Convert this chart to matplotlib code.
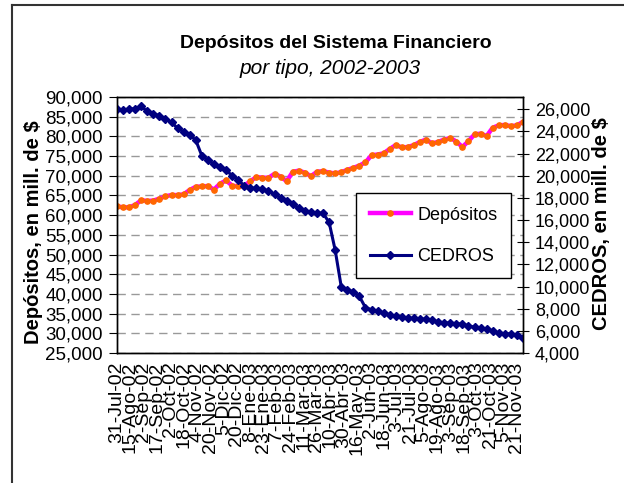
import numpy as np
import matplotlib
matplotlib.use("Agg")
from matplotlib import pyplot as plt
from matplotlib.lines import Line2D

plt.rcParams['font.family'] = ['Liberation Sans', 'DejaVu Sans']
narrow = ['Liberation Sans Narrow', 'Liberation Sans', 'DejaVu Sans']

# category labels, one every 11 business days
x_labels = ["31-Jul-02", "15-Ago-02", "2-Sep-02", "17-Sep-02", "2-Oct-02", "18-Oct-02",
            "4-Nov-02", "20-Nov-02", "5-Dic-02", "20-Dic-02", "8-Ene-03", "23-Ene-03",
            "7-Feb-03", "24-Feb-03", "11-Mar-03", "26-Mar-03", "10-Abr-03", "30-Abr-03",
            "16-May-03", "2-Jun-03", "18-Jun-03", "3-Jul-03", "21-Jul-03", "5-Ago-03",
            "19-Ago-03", "3-Sep-03", "18-Sep-03", "3-Oct-03", "21-Oct-03", "5-Nov-03",
            "21-Nov-03"]
label_step = 11
n_days = 336

# values every 5 business days (millones de $)
sample_step = 5
depositos = [62200, 62000, 62000, 62600, 63800, 63600, 63700, 64200, 64800, 65100,
             65100, 65300, 66400, 67200, 67300, 67400, 66500, 68000, 68800, 67500,
             67300, 67500, 68600, 69700, 69500, 69500, 70500, 69800, 68600, 71000,
             71300, 70800, 69900, 71000, 71200, 70800, 70600, 70900, 71500, 72000,
             72600, 73400, 75200, 75400, 75700, 76800, 77800, 77200, 77300, 77800,
             78600, 79200, 78200, 78600, 79200, 79600, 78700, 77300, 78800, 80500,
             80700, 80100, 82200, 82800, 82900, 82600, 82800, 83700]
cedros = [26000, 25950, 26000, 26050, 26250, 25800, 25600, 25400, 25150, 24800,
          24300, 23950, 23700, 23200, 21800, 21400, 21050, 20800, 20500, 20000,
          19600, 19100, 18900, 18850, 18800, 18600, 18350, 18000, 17700, 17400,
          17100, 16850, 16700, 16650, 16600, 15800, 13300, 10000, 9700, 9500,
          9100, 8100, 7900, 7750, 7580, 7450, 7320, 7250, 7150, 7120,
          7080, 7050, 6950, 6800, 6730, 6700, 6650, 6600, 6450, 6320,
          6250, 6150, 6000, 5800, 5750, 5720, 5600, 5330]

left_ticks = list(range(25000, 90001, 5000))
right_ticks = list(range(4000, 26001, 2000))

x = np.arange(len(depositos)) * sample_step

fig = plt.figure(figsize=(6.24, 4.83), dpi=100)
ax = fig.add_axes([117 / 624, 1 - 353 / 483, 406 / 624, 256 / 483])
ax2 = ax.twinx()

ax.plot(x, depositos, color='#FF00FF', lw=3.2, marker='o', ms=3.8,
        mfc='#FF6600', mec='#FF6600', label='Depósitos')
ax2.plot(x, cedros, color='#000080', lw=2.2, marker='D', ms=3.6,
         mfc='#000080', mec='#000080', label='CEDROS')

ax.set_xlim(0, n_days - 1)
ax.set_ylim(25000, 90000)
ax2.set_ylim(4000, 27100)

ax.set_yticks(left_ticks, [f"{v:,}" for v in left_ticks])
ax2.set_yticks(right_ticks, [f"{v:,}" for v in right_ticks])
ax.set_xticks(np.arange(len(x_labels)) * label_step, x_labels, rotation=90)

ax.yaxis.grid(True, linestyle=(0, (6, 4)), color='#999999', lw=1)
ax.set_axisbelow(True)

ax.tick_params(axis='y', direction='out', length=6, labelsize=13.5, pad=4)
ax2.tick_params(axis='y', direction='inout', length=9, labelsize=13, pad=4)
ax.tick_params(axis='x', length=0, labelsize=14, pad=6)
for lbl in ax.get_yticklabels() + ax2.get_yticklabels() + ax.get_xticklabels():
    lbl.set_family(narrow)

for a in (ax, ax2):
    for s in a.spines.values():
        s.set_color('black')
        s.set_linewidth(1)

fig.text(336 / 624, 1 - 43 / 483, "Depósitos del Sistema Financiero",
         ha='center', va='center', fontsize=14, fontweight='bold')
fig.text(330 / 624, 1 - 68 / 483, "por tipo, 2002-2003",
         ha='center', va='center', fontsize=15, style='italic')

fig.text(34 / 624, 1 - 232 / 483, "Depósitos, en mill. de $", rotation=90,
         ha='center', va='center', fontsize=14.5, fontweight='bold')
fig.text(601 / 624, 1 - 224 / 483, "CEDROS, en mill. de $", rotation=90,
         ha='center', va='center', fontsize=14.5, fontweight='bold')

h1, l1 = ax.get_legend_handles_labels()
h2, l2 = ax2.get_legend_handles_labels()
leg = ax2.legend(h1 + h2, l1 + l2, loc='upper left',
                 bbox_to_anchor=(356 / 624, 1 - 193 / 483), bbox_transform=fig.transFigure,
                 fontsize=13, frameon=True, fancybox=False, framealpha=1,
                 edgecolor='black', labelspacing=1.35, handlelength=2.3,
                 borderpad=0.75, borderaxespad=0, handletextpad=0.35)
leg.get_frame().set_linewidth(1)
for t in leg.get_texts():
    t.set_family(narrow)

# chart frame (cropped on the right and bottom)
fig.add_artist(Line2D([12 / 624, 12 / 624], [0, 1 - 5 / 483], transform=fig.transFigure,
                      color='#333333', lw=1.5))
fig.add_artist(Line2D([12 / 624, 1], [1 - 5 / 483, 1 - 5 / 483], transform=fig.transFigure,
                      color='#333333', lw=1.5))

fig.savefig("out.png", dpi=100)
